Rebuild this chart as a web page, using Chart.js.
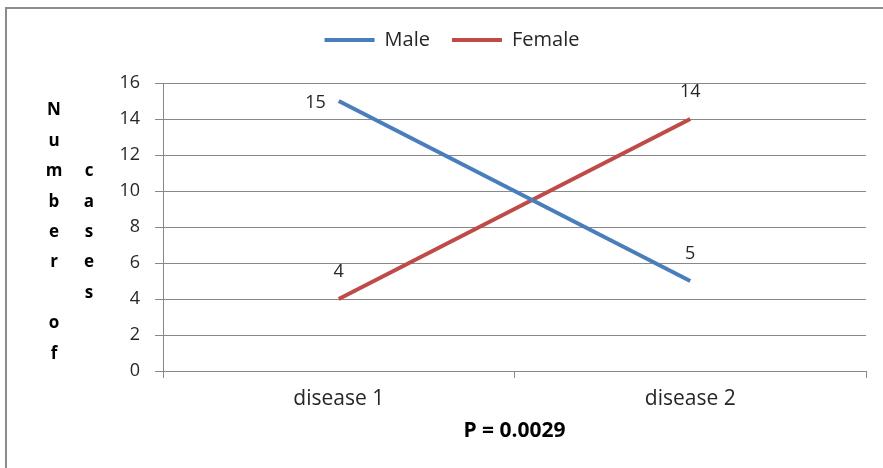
<!DOCTYPE html>
<html>
<head>
<meta charset="utf-8">
<script src="https://cdn.jsdelivr.net/npm/chart.js@4"></script>
<style>
  html, body { margin: 0; padding: 0; background: #ffffff; }
  #wrap { width: 883px; height: 468px; position: relative; }
</style>
</head>
<body>
<div id="wrap"><canvas id="c" width="883" height="468"></canvas></div>
<script>
// Categories and series
const categories = ['disease 1', 'disease 2'];
const maleCases = [15, 5];
const femaleCases = [4, 14];
const seriesNames = ['Male', 'Female'];
const yTickValues = [0, 2, 4, 6, 8, 10, 12, 14, 16];
const xTitle = 'P = 0.0029';
const yTitleColumns = ['Number of', 'cases'];

const FONT = '"Open Sans", "Liberation Sans", sans-serif';
const TEXT = '#262626';
const GRID = '#888888';
const BLUE = '#4A7EBB';
const RED = '#BE4B48';

// Where each value label sits relative to its point
const labelPlacement = [
  ['left', 'above'],
  ['above', 'above']
];

const pageFrame = {
  id: 'pageFrame',
  beforeDraw(chart) {
    const ctx = chart.ctx;
    ctx.save();
    ctx.fillStyle = '#ffffff';
    ctx.fillRect(0, 0, chart.width, chart.height);
    ctx.restore();
  },
  afterDraw(chart) {
    const ctx = chart.ctx;
    ctx.save();
    ctx.fillStyle = '#8c8c8c';
    ctx.fillRect(5, 7, chart.width - 5, 2);
    ctx.fillRect(5, 7, 2, chart.height - 7);
    ctx.restore();
  }
};

// Extra gap between the legend row and the plot area
const legendGap = {
  id: 'legendGap',
  afterInit(chart) {
    const legend = chart.legend;
    if (!legend || legend._gapWrapped) return;
    const fit = legend.fit;
    legend.fit = function () {
      fit.call(this);
      this.height += 23;
    };
    legend._gapWrapped = true;
  }
};

// Stacked, letter-per-row y-axis title in two columns
const stackedYTitle = {
  id: 'stackedYTitle',
  afterDraw(chart) {
    const ctx = chart.ctx;
    const rowH = 30.4;
    const colX = [54, 89];
    const area = chart.chartArea;
    const midY = (area.top + area.bottom) / 2 + 10;
    ctx.save();
    ctx.font = 'bold 17px ' + FONT;
    ctx.fillStyle = '#000000';
    ctx.textAlign = 'center';
    ctx.textBaseline = 'alphabetic';
    yTitleColumns.forEach((word, ci) => {
      const letters = word.split('');
      const firstY = midY - (letters.length - 1) * rowH / 2;
      letters.forEach((ch, i) => {
        if (ch !== ' ') ctx.fillText(ch, colX[ci], firstY + i * rowH);
      });
    });
    ctx.restore();
  }
};

// Value labels next to each point
const valueLabels = {
  id: 'valueLabels',
  afterDatasetsDraw(chart) {
    const ctx = chart.ctx;
    ctx.save();
    ctx.font = '18px ' + FONT;
    ctx.fillStyle = TEXT;
    chart.data.datasets.forEach((ds, di) => {
      const meta = chart.getDatasetMeta(di);
      meta.data.forEach((pt, i) => {
        const where = labelPlacement[di][i];
        const txt = String(ds.data[i]);
        if (where === 'left') {
          ctx.textAlign = 'right';
          ctx.textBaseline = 'middle';
          ctx.fillText(txt, pt.x - 13, pt.y + 2);
        } else {
          ctx.textAlign = 'center';
          ctx.textBaseline = 'middle';
          ctx.fillText(txt, pt.x, pt.y - 27);
        }
      });
    });
    ctx.restore();
  }
};

new Chart(document.getElementById('c'), {
  type: 'line',
  data: {
    labels: categories,
    datasets: [
      {
        label: seriesNames[0],
        data: maleCases,
        borderColor: BLUE,
        backgroundColor: BLUE,
        borderWidth: 4,
        pointRadius: 0,
        pointHoverRadius: 0,
        tension: 0
      },
      {
        label: seriesNames[1],
        data: femaleCases,
        borderColor: RED,
        backgroundColor: RED,
        borderWidth: 4,
        pointRadius: 0,
        pointHoverRadius: 0,
        tension: 0
      }
    ]
  },
  options: {
    responsive: false,
    animation: false,
    layout: { padding: { left: 38, right: 17, top: 8, bottom: 0 } },
    plugins: {
      tooltip: { enabled: false },
      legend: {
        display: true,
        position: 'top',
        labels: {
          usePointStyle: true,
          pointStyle: 'line',
          pointStyleWidth: 50,
          padding: 22,
          color: TEXT,
          font: { family: FONT, size: 20 }
        }
      }
    },
    scales: {
      x: {
        type: 'category',
        offset: true,
        afterFit(scale) { scale.height = 97; },
        grid: {
          display: true,
          drawOnChartArea: false,
          drawTicks: true,
          tickLength: 7,
          offset: true,
          color: GRID
        },
        border: { display: true, color: GRID },
        ticks: {
          padding: 8,
          color: TEXT,
          font: { family: FONT, size: 21 },
          maxRotation: 0
        },
        title: {
          display: true,
          text: xTitle,
          color: '#000000',
          font: { family: FONT, size: 21, weight: 'bold' },
          padding: { top: 0, bottom: 24 }
        }
      },
      y: {
        min: 0,
        max: 16,
        afterFit(scale) { scale.width = 125; },
        afterBuildTicks(scale) { scale.ticks = yTickValues.map(v => ({ value: v })); },
        grid: {
          color: GRID,
          tickLength: 8,
          drawTicks: true
        },
        border: { display: true, color: GRID },
        ticks: {
          padding: 15,
          color: TEXT,
          font: { family: FONT, size: 18 }
        }
      }
    }
  },
  plugins: [pageFrame, legendGap, stackedYTitle, valueLabels]
});
</script>
</body>
</html>
